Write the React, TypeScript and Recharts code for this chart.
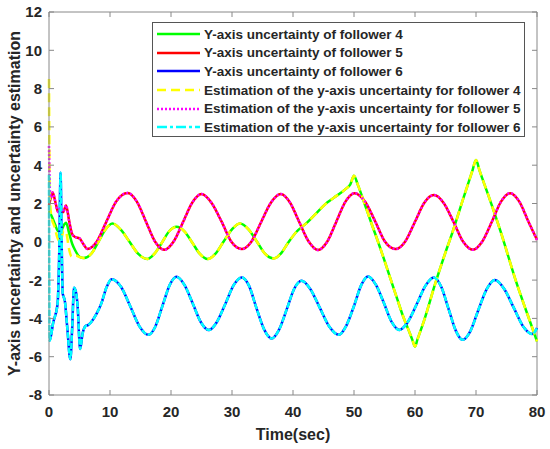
import { LineChart, Line, XAxis, YAxis, Legend, ReferenceLine, Label } from 'recharts';

// [time (s), value] pairs
const follower4Early: [number, number][] = [
  [0, 1.6], [0.5, 1.3], [1.0, 0.9], [1.5, 0.55], [2.0, 0.6], [2.5, 0.9], [2.8, 1.0],
  [3.3, 0.45], [3.8, -0.1], [4.3, -0.45], [5.0, -0.78],
];
const estimate4Early: [number, number][] = [
  [0, 8.5], [0.12, 2.5], [0.4, 1.3], [0.9, 0.8], [1.4, 0.2], [1.9, 0.0], [2.4, 0.6],
  [2.8, 0.5], [3.3, -0.4], [3.7, -0.77], [4.4, -0.72], [5.0, -0.8],
];
const follower4Main: [number, number][] = [
  [5.7, -0.85], [7.0, -0.6], [8.1, 0.0], [9.2, 0.62], [10.4, 0.95], [11.8, 0.62], [13.2, 0.0],
  [14.6, -0.62], [16.1, -0.9], [17.3, -0.62], [18.5, -0.05], [19.7, 0.55], [20.9, 0.78],
  [22.2, 0.55], [23.5, -0.05], [24.7, -0.62], [26.0, -0.9], [27.3, -0.62], [28.6, 0.0],
  [30.0, 0.65], [31.3, 0.95], [32.7, 0.65], [34.1, 0.0], [35.4, -0.62], [36.8, -0.87],
  [38.0, -0.62], [39.2, -0.05], [40.5, 0.5], [42.3, 1.0], [44.0, 1.55], [45.6, 2.05],
  [46.7, 2.3], [48.6, 2.75], [49.4, 3.0], [50.0, 3.45], [50.6, 3.0], [52, 1.75], [53, 0.84],
  [54, -0.05], [55, -0.98], [56, -1.95], [57, -2.9], [58, -3.85], [59, -4.65], [59.6, -5.15],
  [60, -5.47], [60.4, -5.1], [61.5, -4.1], [63.3, -2.2], [65, -0.55], [66.1, 0.45], [68, 2.35],
  [69.4, 3.7], [70, 4.27], [70.6, 3.7], [72, 2.45], [74, 0.57], [76.7, -2.2], [78, -3.4],
  [79.4, -4.65], [80, -5.2],
];

const follower5Early: [number, number][] = [[0, 1.9], [0.3, 2.3]];
const estimate5Early: [number, number][] = [[0, 5.0], [0.15, 2.7], [0.35, 2.3]];
const follower5Main: [number, number][] = [
  [0.6, 2.57], [1.1, 2.0], [1.5, 1.55], [1.9, 1.75], [2.3, 1.55], [2.8, 1.9], [3.3, 1.1],
  [3.8, 0.4], [4.3, 0.25], [5.0, 0.18], [5.6, -0.1], [6.3, -0.37], [7.85, 0.02], [9.4, 1.05],
  [11.0, 2.1], [12.9, 2.55], [14.4, 2.1], [15.9, 1.05], [17.4, 0.0], [18.9, -0.42], [20.4, 0.0],
  [22.0, 1.05], [23.5, 2.05], [25.0, 2.49], [26.6, 2.05], [28.3, 1.05], [29.9, 0.0],
  [31.6, -0.38], [33.2, 0.02], [34.8, 1.05], [36.4, 2.05], [38.0, 2.49], [39.5, 2.05],
  [41.0, 1.05], [42.6, 0.0], [44.1, -0.43], [45.6, 0.0], [47.1, 1.05], [48.6, 2.1],
  [50.1, 2.54], [51.8, 2.1], [53.5, 1.05], [55.1, 0.0], [56.8, -0.38], [58.4, 0.02],
  [60.0, 1.05], [61.5, 2.03], [63.1, 2.44], [64.7, 2.03], [66.3, 1.05], [67.9, 0.0],
  [69.5, -0.42], [71.0, 0.0], [72.6, 1.05], [74.1, 2.1], [75.6, 2.54], [77.1, 2.1],
  [78.6, 1.05], [80, 0.1],
];

const follower6Early: [number, number][] = [[0, -5.17]];
const estimate6Early: [number, number][] = [[0, 3.5]];
const follower6Main: [number, number][] = [
  [0.1, -5.17], [0.7, -4.2], [1.4, -3.26], [1.65, -1.0], [1.9, 3.6], [2.05, 0.5], [2.25, -2.7],
  [2.6, -3.1], [3.0, -4.5], [3.5, -6.13], [3.8, -4.5], [4.1, -2.4], [4.4, -2.6], [4.7, -3.4],
  [5.1, -5.6], [5.5, -4.8], [6.0, -4.4], [6.4, -4.35], [6.9, -4.2], [7.8, -3.75], [8.6, -3.2],
  [9.4, -2.4], [10.3, -1.95], [11.8, -2.35], [13.3, -3.35], [14.8, -4.4], [16.3, -4.86],
  [17.4, -4.45], [18.6, -3.35], [19.8, -2.25], [20.9, -1.83], [22.2, -2.25], [23.6, -3.25],
  [24.9, -4.2], [26.2, -4.61], [27.5, -4.2], [28.9, -3.25], [30.3, -2.25], [31.6, -1.86],
  [32.8, -2.3], [34.0, -3.45], [35.3, -4.6], [36.5, -5.05], [37.7, -4.6], [39.0, -3.5],
  [40.2, -2.45], [41.4, -2.04], [42.8, -2.45], [44.4, -3.45], [46.0, -4.45], [47.5, -4.86],
  [48.7, -4.4], [50.0, -3.35], [51.2, -2.25], [52.3, -1.81], [53.6, -2.25], [54.9, -3.2],
  [56.2, -4.2], [57.4, -4.6], [58.8, -4.2], [60.3, -3.25], [61.7, -2.3], [63.1, -1.86],
  [64.3, -2.35], [65.5, -3.5], [66.7, -4.65], [67.8, -5.12], [69.1, -4.65], [70.4, -3.55],
  [71.8, -2.45], [73.1, -2.0], [74.6, -2.45], [76.2, -3.45], [77.8, -4.45], [79.2, -4.82],
  [80, -4.5],
];

const xTicks = [0, 10, 20, 30, 40, 50, 60, 70, 80];
const yTicks = [-8, -6, -4, -2, 0, 2, 4, 6, 8, 10, 12];

const legendNames = [
  'Y-axis uncertainty of follower 4',
  'Y-axis uncertainty of follower 5',
  'Y-axis uncertainty of follower 6',
  'Estimation of the y-axis uncertainty for follower 4',
  'Estimation of the y-axis uncertainty for follower 5',
  'Estimation of the y-axis uncertainty for follower 6',
];

const rows = (pts: [number, number][]) => pts.map(([t, v]) => ({ t, v }));

const WIDTH = 550;
const HEIGHT = 449;
const MARGIN = { top: 12, right: 13, bottom: 0, left: 0 };
const PLOT_RIGHT = WIDTH - MARGIN.right;
const FONT = '"Liberation Sans", Arial, sans-serif';
const AXIS = '#888';
const TEXT = '#262626';
const X_MARGIN = 11;
const Y_MARGIN = 7;
const TICK = 5;

const legendStyles = [
  { color: '#00ff00', dash: undefined },
  { color: '#ff0000', dash: undefined },
  { color: '#0000ff', dash: undefined },
  { color: '#ffff00', dash: '9 5' },
  { color: '#ff00ff', dash: '2 2' },
  { color: '#00ffff', dash: '10 3 3 3' },
];

function XTick({ x, y, payload }: any) {
  const axisY = y - X_MARGIN;
  return (
    <g>
      <line x1={x} x2={x} y1={axisY} y2={axisY - TICK} stroke={AXIS} />
      <line x1={x} x2={x} y1={MARGIN.top} y2={MARGIN.top + TICK} stroke={AXIS} />
      <text x={x} y={y} dy="0.71em" textAnchor="middle" fill={TEXT}
        style={{ fontFamily: FONT, fontWeight: 700, fontSize: 15 }}>
        {payload.value}
      </text>
    </g>
  );
}

function YTick({ x, y, payload }: any) {
  const axisX = x + Y_MARGIN;
  return (
    <g>
      <line x1={axisX} x2={axisX + TICK} y1={y} y2={y} stroke={AXIS} />
      <line x1={PLOT_RIGHT - TICK} x2={PLOT_RIGHT} y1={y} y2={y} stroke={AXIS} />
      <text x={x} y={y} dy="0.36em" textAnchor="end" fill={TEXT}
        style={{ fontFamily: FONT, fontWeight: 700, fontSize: 15 }}>
        {payload.value}
      </text>
    </g>
  );
}

function YLabel({ viewBox }: any) {
  const cx = viewBox.x + 14;
  const cy = viewBox.y + viewBox.height / 2;
  return (
    <text x={cx} y={cy} dy="0.36em" textAnchor="middle" fill={TEXT}
      transform={`rotate(-90, ${cx}, ${cy})`}
      style={{ fontFamily: FONT, fontWeight: 700, fontSize: 16 }}>
      Y-axis uncertainty and uncertainty estimation
    </text>
  );
}

function LegendBox() {
  return (
    <div style={{
      width: 373,
      height: 115,
      boxSizing: 'border-box',
      border: '1px solid #555',
      background: '#fff',
      paddingTop: 2,
      fontFamily: FONT,
      fontWeight: 700,
      fontSize: 13.5,
      color: TEXT,
      textAlign: 'left',
    }}>
      {legendNames.map((name, i) => (
        <div key={name} style={{ height: 18.6, display: 'flex', alignItems: 'center' }}>
          <svg width={51} height={10} style={{ flex: 'none' }}>
            <line x1={4} x2={47} y1={5} y2={5} stroke={legendStyles[i].color}
              strokeWidth={2.5} strokeDasharray={legendStyles[i].dash} />
          </svg>
          <span style={{ whiteSpace: 'nowrap' }}>{name}</span>
        </div>
      ))}
    </div>
  );
}

export default function App() {
  return (
    <div style={{ position: 'absolute', left: 0, top: 0, width: WIDTH, height: HEIGHT, background: '#fff' }}>
      <LineChart width={WIDTH} height={HEIGHT} margin={MARGIN}>
        <XAxis
          dataKey="t"
          type="number"
          domain={[0, 80]}
          ticks={xTicks}
          interval={0}
          height={54}
          tickSize={0}
          tickMargin={X_MARGIN}
          tickLine={false}
          axisLine={{ stroke: AXIS }}
          tick={(p: any) => <XTick {...p} />}
        >
          <Label value="Time(sec)" position="insideBottom" offset={9} fill={TEXT}
            style={{ fontFamily: FONT, fontWeight: 700, fontSize: 16 }} />
        </XAxis>
        <YAxis
          type="number"
          domain={[-8, 12]}
          ticks={yTicks}
          interval={0}
          width={49}
          tickSize={0}
          tickMargin={Y_MARGIN}
          tickLine={false}
          axisLine={{ stroke: AXIS }}
          tick={(p: any) => <YTick {...p} />}
          label={<YLabel />}
        />
        <ReferenceLine y={12} stroke={AXIS} />
        <ReferenceLine x={80} stroke={AXIS} />

        <Line data={rows([...follower4Early, ...follower4Main])} dataKey="v" name={legendNames[0]}
          type="monotone" stroke="#00ff00" strokeWidth={2.5} dot={false} isAnimationActive={false} />
        <Line data={rows([...follower5Early, ...follower5Main])} dataKey="v" name={legendNames[1]}
          type="monotone" stroke="#ff0000" strokeWidth={2.5} dot={false} isAnimationActive={false} />
        <Line data={rows([...follower6Early, ...follower6Main])} dataKey="v" name={legendNames[2]}
          type="monotone" stroke="#0000ff" strokeWidth={2.5} dot={false} isAnimationActive={false} />
        <Line data={rows([...estimate4Early, ...follower4Main])} dataKey="v" name={legendNames[3]}
          type="monotone" stroke="#ffff00" strokeWidth={2.5} strokeDasharray="9 5" dot={false}
          isAnimationActive={false} />
        <Line data={rows([...estimate5Early, ...follower5Main])} dataKey="v" name={legendNames[4]}
          type="monotone" stroke="#ff00ff" strokeWidth={2.5} strokeDasharray="2 2" dot={false}
          isAnimationActive={false} />
        <Line data={rows([...estimate6Early, ...follower6Main])} dataKey="v" name={legendNames[5]}
          type="monotone" stroke="#00ffff" strokeWidth={2.5} strokeDasharray="6 1.5" dot={false}
          isAnimationActive={false} />

        <Legend
          layout="horizontal"
          verticalAlign="middle"
          align="center"
          content={() => <LegendBox />}
          wrapperStyle={{ left: 152, top: 22, width: 373, height: 115 }}
        />
      </LineChart>
    </div>
  );
}
